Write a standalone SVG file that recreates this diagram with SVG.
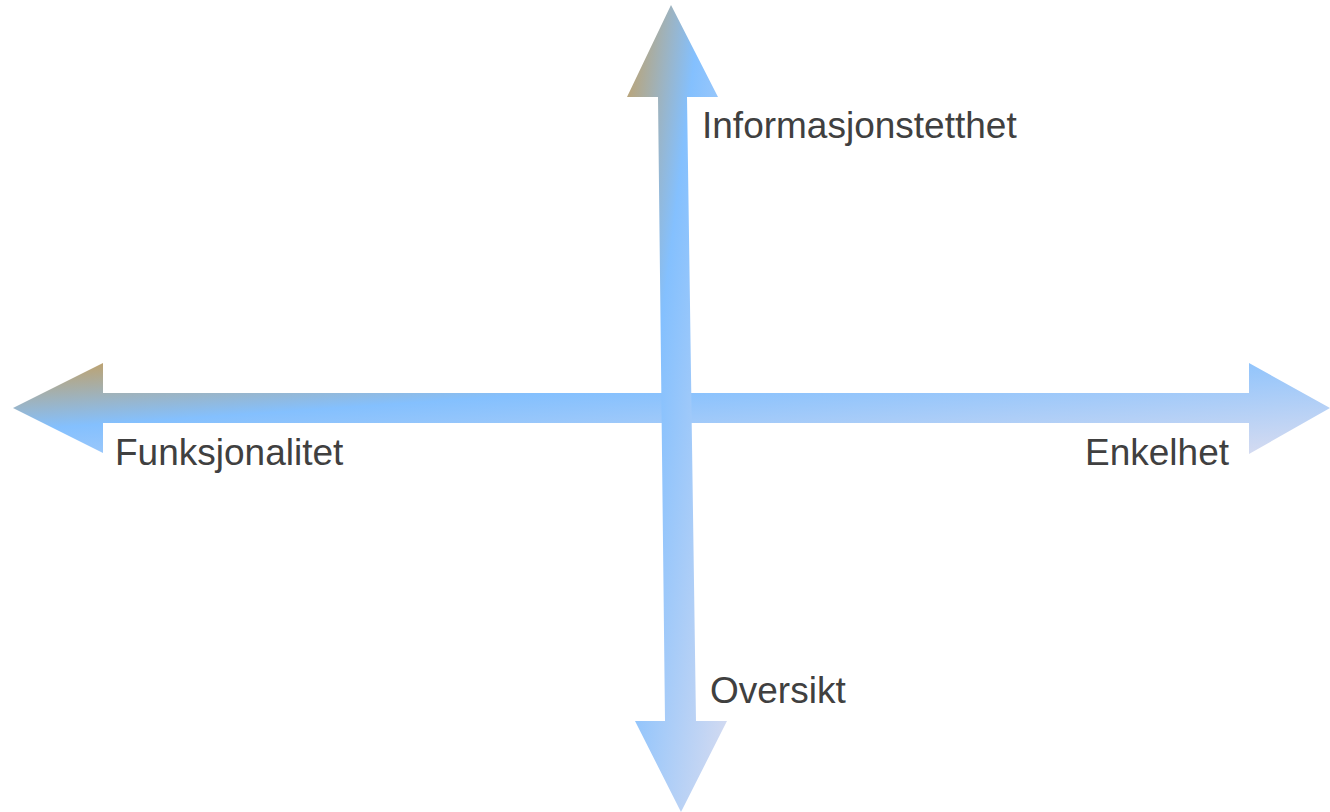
<svg xmlns="http://www.w3.org/2000/svg" width="1330" height="812" viewBox="0 0 1330 812">
  <defs>
    <linearGradient id="g" x1="0" y1="0" x2="1" y2="1">
      <stop offset="0" stop-color="#c2a064"/>
      <stop offset="0.37" stop-color="#84c0fe"/>
      <stop offset="1" stop-color="#d8dcf0"/>
    </linearGradient>
    <style>
      .arrow { fill: url(#g); stroke: none; }
      .lbl { font-family: "Liberation Sans", Arial, sans-serif; font-size: 37px; fill: #404040; }
    </style>
  </defs>
  <rect width="1330" height="812" fill="#ffffff"/>
  <g id="connectors">
    <polygon id="axis-horizontal" class="arrow" points="13,408 103,363 103,393 1249,393 1249,363 1330,408 1249,454 1249,423 103,423 103,453"/>
    <polygon id="axis-vertical" class="arrow" points="671,5 718,97 687,97 696,721 727,721 681,812 635,721 665,721 658,97 627,97"/>
  </g>
  <g id="label-top"><text class="lbl" x="702" y="138">Informasjonstetthet</text></g>
  <g id="label-left"><text class="lbl" x="115" y="465">Funksjonalitet</text></g>
  <g id="label-right"><text class="lbl" x="1085" y="465">Enkelhet</text></g>
  <g id="label-bottom"><text class="lbl" x="710" y="703">Oversikt</text></g>
</svg>
